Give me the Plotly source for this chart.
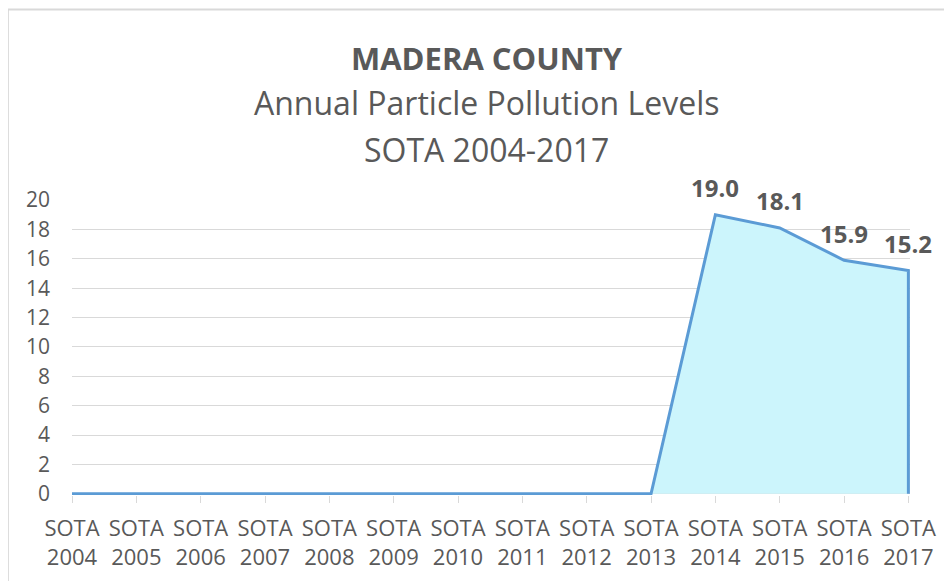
import plotly.graph_objects as go

years = [str(y) for y in range(2004, 2018)]
categories = ["SOTA " + y for y in years]
pm_levels = [0, 0, 0, 0, 0, 0, 0, 0, 0, 0, 19.0, 18.1, 15.9, 15.2]
y_ticks = list(range(0, 21, 2))

title_lines = ["<b>MADERA COUNTY</b>", "Annual Particle Pollution Levels", "SOTA 2004-2017"]

GREY = "#595959"
GRID = "#D9D9D9"
FONT = "Open Sans"

idx = list(range(len(categories)))

# close the outline down to zero at the last year, like an Excel area border
outline_x = idx + [idx[-1]]
outline_y = pm_levels + [0]

fig = go.Figure()
fig.add_trace(go.Scatter(
    x=outline_x,
    y=outline_y,
    mode="lines",
    fill="tozeroy",
    fillcolor="#CCF5FC",
    line=dict(color="#5B9BD5", width=3),
    hoverinfo="skip",
    showlegend=False,
))

# data labels only for the years with readings
annotations = []
for i, v in zip(idx, pm_levels):
    if v > 0:
        annotations.append(dict(
            x=i, y=v, xref="x", yref="y", text=f"{v:.1f}", showarrow=False,
            yshift=27, font=dict(family=FONT, size=24, color=GREY, weight="bold"),
        ))

title_y = [1.483, 1.330, 1.170]
title_sizes = [31, 32, 32]
for t, yy, s in zip(title_lines, title_y, title_sizes):
    annotations.append(dict(
        x=0.495, y=yy, xref="paper", yref="paper", text=t, showarrow=False,
        xanchor="center", yanchor="middle", font=dict(family=FONT, size=s, color=GREY),
    ))

# page has an 8px body margin, so margins are shifted by 8
fig.update_layout(
    width=952,
    height=581,
    margin=dict(l=64, r=50, t=192, b=94),
    paper_bgcolor="white",
    plot_bgcolor="white",
    font=dict(family=FONT, color=GREY, size=21),
    annotations=annotations,
    xaxis=dict(
        range=[0, 13.025],
        tickvals=idx,
        ticktext=["SOTA"] * len(idx),
        showgrid=False,
        zeroline=False,
        showline=False,
        ticks="outside",
        ticklen=7,
        tickcolor=GRID,
        ticklabelstandoff=7,
        tickfont=dict(size=22, color=GREY),
    ),
    xaxis2=dict(
        overlaying="x",
        side="bottom",
        range=[0, 13.025],
        tickvals=idx,
        ticktext=years,
        showgrid=False,
        zeroline=False,
        showline=False,
        ticks="",
        ticklabelstandoff=47,
        tickfont=dict(size=22, color=GREY),
    ),
    yaxis=dict(
        range=[-0.08, 20],
        tickvals=y_ticks,
        showgrid=True,
        gridcolor=GRID,
        zeroline=False,
        ticklabelstandoff=21,
        tickfont=dict(size=21, color=GREY),
    ),
    shapes=[dict(
        type="rect", xref="paper", yref="paper",
        x0=-0.0765, x1=1.12, y0=-0.4, y1=1.646,
        line=dict(color="#D9D9D9", width=2), fillcolor="rgba(0,0,0,0)", layer="below",
    )],
)

# invisible trace so the year row axis gets drawn
fig.add_trace(go.Scatter(x=[0, 13], y=[0, 0], xaxis="x2", mode="markers",
                         marker=dict(opacity=0), hoverinfo="skip", showlegend=False))

fig.write_html("out.html")
